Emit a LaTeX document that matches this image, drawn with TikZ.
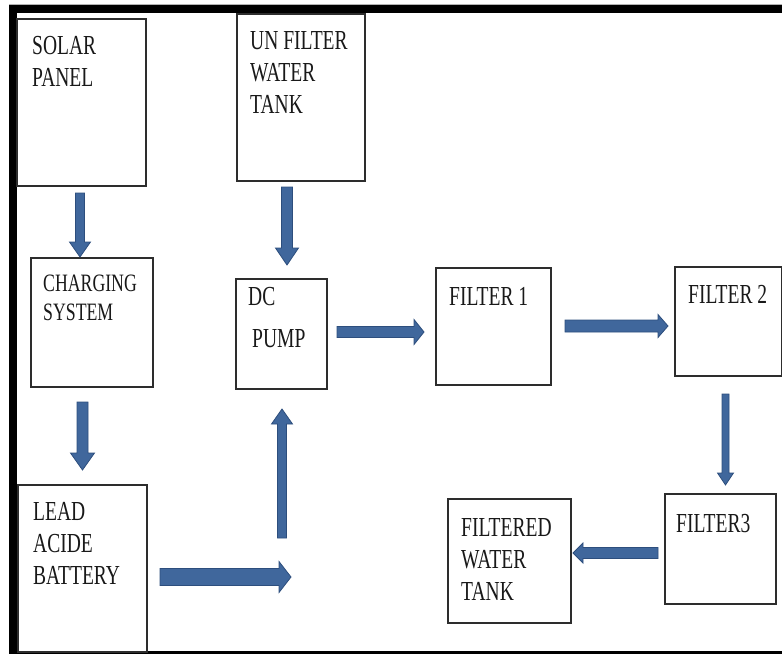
\documentclass[tikz,border=0pt]{standalone}
\usepackage{fontspec}
\setmainfont[FakeStretch=0.71]{Liberation Serif}
\usetikzlibrary{calc}
\definecolor{arrfill}{RGB}{64,103,156}
\definecolor{arrline}{RGB}{45,78,125}
\definecolor{boxline}{RGB}{45,45,45}
\newcommand\blockarr[5]{% from, to, shaft half, head half, head length
  \coordinate (tmpH) at ($(#2)!#5!(#1)$);
  \filldraw[blockarrow]
    ($(#1)!#3!90:(#2)$) -- ($(tmpH)!#3!90:(#2)$) -- ($(tmpH)!#4!90:(#2)$) -- (#2)
    -- ($(tmpH)!#4!-90:(#2)$) -- ($(tmpH)!#3!-90:(#2)$) -- ($(#1)!#3!-90:(#2)$) -- cycle;
}
\tikzset{
  box/.style={draw=boxline, line width=1.3pt, fill=white, inner sep=0pt},
  lbl/.style={anchor=north west, inner sep=0pt, align=left, text=black!90,
    font=\fontsize{27.5pt}{32pt}\selectfont},
  blockarrow/.style={fill=arrfill, draw=arrline, line width=0.8pt, line join=miter},
}
\begin{document}
\begin{tikzpicture}[x=1pt,y=-1pt]
\useasboundingbox (0,0) rectangle (782,654);
% frame
\fill[gray!60] (9,4) rectangle (782,6);
\fill[black] (9,5) rectangle (782,13);
\fill[black] (9,5) rectangle (17,654);
\fill[black] (9,651) rectangle (782,654);
% boxes
\node[box, minimum width=129pt, minimum height=167pt] (solar) at (81.5,102.5) {};
\node[box, minimum width=128pt, minimum height=167pt] (unf) at (301,97.5) {};
\node[box, minimum width=122pt, minimum height=129pt] (chg) at (92,322.5) {};
\node[box, minimum width=129pt, minimum height=167pt] (bat) at (82.5,568.5) {};
\node[box, minimum width=91pt, minimum height=110pt] (dc) at (281.5,334) {};
\node[box, minimum width=115pt, minimum height=117pt] (f1) at (493.5,326.5) {};
\node[box, minimum width=107pt, minimum height=109pt] (f2) at (728.5,321.5) {};
\node[box, minimum width=111pt, minimum height=110pt] (f3) at (720.5,549) {};
\node[box, minimum width=123pt, minimum height=124pt] (ft) at (509.5,561) {};
% labels
\node[lbl] (solart) at (32,36) {SOLAR\\PANEL};
\node[lbl] (unft) at (250,31) {UN FILTER\\WATER\\TANK};
\node[lbl, font=\fontsize{25pt}{29pt}\selectfont] (chgt) at (43,275) {CHARGING\\SYSTEM};
\node[lbl, font=\fontsize{27.5pt}{42pt}\selectfont] (dct) at (248,287) {DC\\\hspace*{4pt}PUMP};
\node[lbl] (f1t) at (449,287) {FILTER 1};
\node[lbl] (f2t) at (688,285) {FILTER 2};
\node[lbl] (batt) at (33,502) {LEAD\\ACIDE\\BATTERY};
\node[lbl] (f3t) at (676,514) {FILTER3};
\node[lbl] (ftt) at (461,518) {FILTERED\\WATER\\TANK};
% arrow end points
\coordinate (a1s) at (80,193);   \coordinate (a1e) at (80,257);
\coordinate (a2s) at (287,187);  \coordinate (a2e) at (287,265);
\coordinate (a3s) at (82.5,402); \coordinate (a3e) at (82.5,470);
\coordinate (a4s) at (282,538);  \coordinate (a4e) at (282,409);
\coordinate (a5s) at (337,332);  \coordinate (a5e) at (424,332);
\coordinate (a6s) at (565,326);  \coordinate (a6e) at (668,326);
\coordinate (a7s) at (725.5,394);\coordinate (a7e) at (725.5,485);
\coordinate (a8s) at (160,577);  \coordinate (a8e) at (291,577);
\coordinate (a9s) at (658,553);  \coordinate (a9e) at (573,553);
% block arrows
\blockarr{a1s}{a1e}{4.5pt}{10.5pt}{15pt}
\blockarr{a2s}{a2e}{5.5pt}{11.5pt}{17pt}
\blockarr{a3s}{a3e}{5.5pt}{12pt}{17pt}
\blockarr{a4s}{a4e}{4.5pt}{10.5pt}{15pt}
\blockarr{a5s}{a5e}{5.5pt}{12.5pt}{10pt}
\blockarr{a6s}{a6e}{6pt}{11.5pt}{10pt}
\blockarr{a7s}{a7e}{3.5pt}{8pt}{12pt}
\blockarr{a8s}{a8e}{8.5pt}{15.5pt}{12pt}
\blockarr{a9s}{a9e}{5.5pt}{10pt}{10pt}
\end{tikzpicture}
\end{document}
